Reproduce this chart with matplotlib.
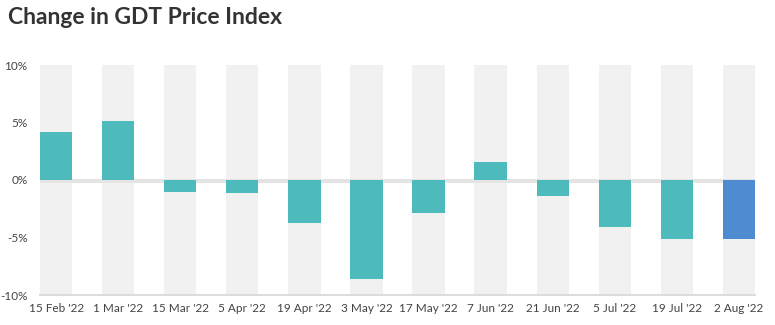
import matplotlib
matplotlib.use('Agg')
import matplotlib.pyplot as plt
import numpy as np

# auction dates and change in index (%)
dates = ["15 Feb '22", "1 Mar '22", "15 Mar '22", "5 Apr '22", "19 Apr '22", "3 May '22",
         "17 May '22", "7 Jun '22", "21 Jun '22", "5 Jul '22", "19 Jul '22", "2 Aug '22"]
change = [4.2, 5.1, -1.0, -1.1, -3.7, -8.6, -2.9, 1.6, -1.4, -4.1, -5.1, -5.1]
yticks = [-10, -5, 0, 5, 10]
ytick_labels = ['-10%', '-5%', '0%', '5%', '10%']

teal = '#4dbbbb'
blue = '#4f8bd0'

plt.rcParams['font.family'] = ['Lato', 'DejaVu Sans']

fig = plt.figure(figsize=(7.75, 3.25), dpi=100)
ax = fig.add_axes([40/775, 1 - 295/325, 715/775, 230/325])

x = np.arange(len(dates))
w = 0.52
colors = [teal] * (len(dates) - 1) + [blue]

# grey stripes behind each bar
ax.bar(x, 20, bottom=-10, width=w, color='#f1f1f1', zorder=1)
# zero band
ax.axhspan(-0.3, 0.05, color='#e4e4e4', zorder=2, lw=0)
ax.bar(x, change, width=w, color=colors, zorder=3)

ax.set_xlim(-w/2, len(dates) - 1 + w/2)
ax.set_ylim(-10, 10)
ax.set_yticks(yticks)
ax.set_yticklabels(ytick_labels)
ax.set_xticks(x)
ax.set_xticklabels(dates)
ax.tick_params(axis='both', length=0, labelsize=8.5, colors='#444444')
ax.tick_params(axis='y', pad=9)
ax.tick_params(axis='x', pad=6)
for s in ['top', 'right', 'left']:
    ax.spines[s].set_visible(False)
ax.spines['bottom'].set_color('#dddddd')
ax.spines['bottom'].set_linewidth(1.5)

fig.text(8/775, 1 - 17/325, 'Change in GDT Price Index', fontsize=16.5, fontweight='bold',
         color='#333333', va='center', ha='left')

fig.savefig('out.png', dpi=100)
